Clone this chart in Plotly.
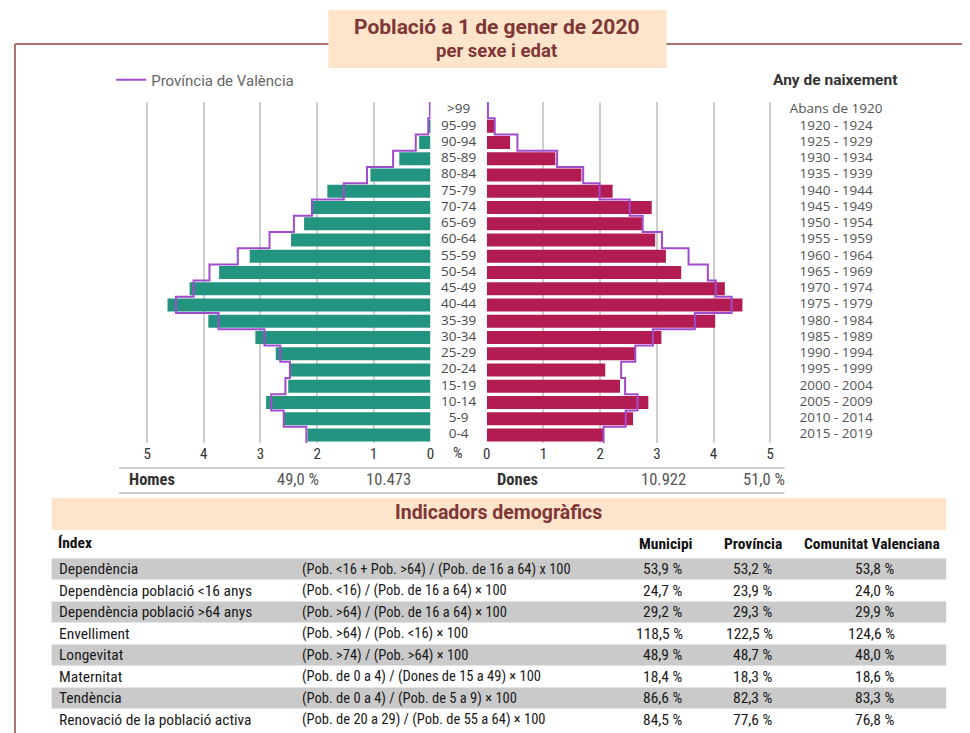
import plotly.graph_objects as go

W, H = 970, 733
OFF = 8  # default page body margin
FW, FH = W - OFF, H - OFF

def px(x):
    return (x - OFF) / FW

def py(y):
    return 1 - (y - OFF) / FH

# ---------------- data ----------------
ages = ['0-4', '5-9', '10-14', '15-19', '20-24', '25-29', '30-34', '35-39', '40-44',
        '45-49', '50-54', '55-59', '60-64', '65-69', '70-74', '75-79', '80-84',
        '85-89', '90-94', '95-99', '>99']
birth = ['2015 - 2019', '2010 - 2014', '2005 - 2009', '2000 - 2004', '1995 - 1999',
         '1990 - 1994', '1985 - 1989', '1980 - 1984', '1975 - 1979', '1970 - 1974',
         '1965 - 1969', '1960 - 1964', '1955 - 1959', '1950 - 1954', '1945 - 1949',
         '1940 - 1944', '1935 - 1939', '1930 - 1934', '1925 - 1929', '1920 - 1924',
         'Abans de 1920']
homes = [2.17, 2.59, 2.90, 2.51, 2.49, 2.73, 3.09, 3.92, 4.64, 4.25, 3.73, 3.19,
         2.46, 2.23, 2.11, 1.82, 1.06, 0.55, 0.20, 0.03, 0.0]
dones = [2.05, 2.58, 2.85, 2.35, 2.09, 2.62, 3.08, 4.03, 4.51, 4.20, 3.43, 3.16,
         2.97, 2.74, 2.91, 2.22, 1.67, 1.21, 0.41, 0.14, 0.0]
prov_homes = [2.19, 2.59, 2.81, 2.56, 2.48, 2.65, 2.93, 3.74, 4.49, 4.18, 3.90, 3.40,
              2.84, 2.41, 2.09, 1.53, 1.12, 0.66, 0.26, 0.04, 0.01]
prov_dones = [2.06, 2.45, 2.66, 2.44, 2.37, 2.62, 2.93, 3.67, 4.32, 4.04, 3.90, 3.56,
              3.09, 2.75, 2.52, 1.99, 1.70, 1.24, 0.54, 0.14, 0.02]
tick_vals = [0, 1, 2, 3, 4, 5]

summary_homes = ['Homes', '49,0 %', '10.473']
summary_dones = ['Dones', '10.922', '51,0 %']

idx_names = ['Dependència', 'Dependència població <16 anys', 'Dependència població >64 anys',
             'Envelliment', 'Longevitat', 'Maternitat', 'Tendència',
             'Renovació de la població activa']
formulas = ['(Pob. <16 + Pob. >64) / (Pob. de 16 a 64) x 100',
            '(Pob. <16) / (Pob. de 16 a 64) × 100',
            '(Pob. >64) / (Pob. de 16 a 64) × 100',
            '(Pob. >64) / (Pob. <16) × 100',
            '(Pob. >74) / (Pob. >64) × 100',
            '(Pob. de 0 a 4) / (Dones de 15 a 49) × 100',
            '(Pob. de 0 a 4) / (Pob. de 5 a 9) × 100',
            '(Pob. de 20 a 29) / (Pob. de 55 a 64) × 100']
municipi = ['53,9 %', '24,7 %', '29,2 %', '118,5 %', '48,9 %', '18,4 %', '86,6 %', '84,5 %']
provincia = ['53,2 %', '23,9 %', '29,3 %', '122,5 %', '48,7 %', '18,3 %', '82,3 %', '77,6 %']
comunitat = ['53,8 %', '24,0 %', '29,9 %', '124,6 %', '48,0 %', '18,6 %', '83,3 %', '76,8 %']
table_headers = ['Índex', 'Municipi', 'Província', 'Comunitat Valenciana']

# ---------------- styles ----------------
TEAL = '#23947f'
CRIMSON = '#b31c52'
PURPLE = '#a04ccc'
BROWN = '#7f3636'
PEACH = '#fde4ca'
GRID = '#cdcdcd'
NARROW = 'Liberation Sans Narrow, Roboto Condensed, DejaVu Sans Condensed, sans-serif'
HUMAN = 'Open Sans, Noto Sans, sans-serif'

unit = 57.15
x0_m, x0_f = 430.0, 486.8
ext = 5.05

ypos = list(range(len(ages)))
step_y = [i - 0.5 for i in ypos] + [ypos[-1] + 0.5]

fig = go.Figure()
fig.add_trace(go.Bar(y=ypos, x=homes, orientation='h', marker=dict(color=TEAL, line=dict(width=0)),
                     xaxis='x', yaxis='y', showlegend=False, name='Homes'))
fig.add_trace(go.Bar(y=ypos, x=dones, orientation='h', marker=dict(color=CRIMSON, line=dict(width=0)),
                     xaxis='x2', yaxis='y', showlegend=False, name='Dones'))
fig.add_trace(go.Scatter(x=prov_homes + [prov_homes[-1]], y=step_y, mode='lines', line_shape='vh',
                         line=dict(color=PURPLE, width=2), xaxis='x', yaxis='y',
                         name='Província de València', showlegend=True))
fig.add_trace(go.Scatter(x=prov_dones + [prov_dones[-1]], y=step_y, mode='lines', line_shape='vh',
                         line=dict(color=PURPLE, width=2), xaxis='x2', yaxis='y',
                         name='Província de València', showlegend=False))
# age labels (between the halves) and birth-year labels (right)
fig.add_trace(go.Scatter(x=[0.5] * len(ages), y=ypos, mode='text',
                         text=[a for a in ages], textposition='middle center',
                         textfont=dict(family=HUMAN, size=13.5, color='#4a4a4a'),
                         xaxis='x3', yaxis='y', showlegend=False, hoverinfo='skip'))
fig.add_trace(go.Scatter(x=[0.5] * len(birth), y=ypos, mode='text',
                         text=birth, textposition='middle center',
                         textfont=dict(family=HUMAN, size=13.5, color='#555555'),
                         xaxis='x4', yaxis='y', showlegend=False, hoverinfo='skip'))

axis_common = dict(tickvals=tick_vals, ticktext=[str(v) for v in tick_vals],
                   tickfont=dict(family=NARROW, size=15, color='#333333'),
                   showgrid=True, gridcolor=GRID, gridwidth=1.5, zeroline=False,
                   showline=False, ticks='', fixedrange=True)
hidden = dict(range=[0, 1], showgrid=False, zeroline=False, showline=False,
              showticklabels=False, ticks='', fixedrange=True, anchor='y')

fig.update_layout(
    width=FW, height=FH, autosize=False,
    margin=dict(l=0, r=0, t=0, b=0),
    paper_bgcolor='white', plot_bgcolor='rgba(0,0,0,0)',
    bargap=0.2,
    xaxis=dict(domain=[px(x0_m - ext * unit), px(x0_m)], range=[ext, 0], anchor='y', **axis_common),
    xaxis2=dict(domain=[px(x0_f), px(x0_f + ext * unit)], range=[0, ext], anchor='y', **axis_common),
    xaxis3=dict(domain=[px(x0_m + 1), px(x0_f - 1)], **hidden),
    xaxis4=dict(domain=[px(785), px(893)], **hidden),
    yaxis=dict(domain=[py(443.1), py(101.9)], range=[-0.5, 20.5], showticklabels=False,
               showgrid=False, zeroline=False, showline=False, ticks='', fixedrange=True, anchor='x'),
    legend=dict(x=px(108), y=py(80), xanchor='left', yanchor='middle', itemwidth=30,
                font=dict(family='Roboto, sans-serif', size=15, color='#666666'),
                bgcolor='rgba(0,0,0,0)'),
)

shapes = []
# frame
shapes.append(dict(type='line', xref='paper', yref='paper', x0=px(11), x1=px(975), y0=py(44), y1=py(44),
                   line=dict(color='#a87474', width=2)))
shapes.append(dict(type='line', xref='paper', yref='paper', x0=px(11), x1=px(11), y0=py(44), y1=py(740),
                   line=dict(color='#a87474', width=2)))
# title box
shapes.append(dict(type='rect', xref='paper', yref='paper', x0=px(327), x1=px(668), y0=py(68), y1=py(10),
                   fillcolor=PEACH, line=dict(width=0)))
# summary lines
for yy in (468, 493):
    shapes.append(dict(type='line', xref='paper', yref='paper', x0=px(116), x1=px(787), y0=py(yy), y1=py(yy),
                       line=dict(color='#bdbdbd', width=1.5)))
# indicators band
shapes.append(dict(type='rect', xref='paper', yref='paper', x0=px(48), x1=px(950), y0=py(530), y1=py(498),
                   fillcolor=PEACH, line=dict(width=0)))
row0, pitch = 569.0, 21.5
for i in range(len(idx_names)):
    if i % 2 == 0:
        cy = row0 + pitch * i
        shapes.append(dict(type='rect', xref='paper', yref='paper', x0=px(48), x1=px(950),
                           y0=py(cy + 10.5), y1=py(cy - 10.5), fillcolor='#cacaca', line=dict(width=0),
                           layer='below'))
fig.update_layout(shapes=shapes)

ann = []
def A(x, y, text, size=13, color='#333333', family=NARROW, xanchor='left', bold=False):
    t = f'<b>{text}</b>' if bold else text
    ann.append(dict(x=x, y=y, xref='paper', yref='paper', text=t, showarrow=False,
                    xanchor=xanchor, yanchor='middle', borderpad=0,
                    font=dict(family=family, size=size, color=color)))

# titles
A(px(497), py(27), 'Població a 1 de gener de 2020', size=21, color=BROWN,
  family='Roboto, sans-serif', xanchor='center', bold=True)
A(px(497), py(51), 'per sexe i edat', size=18.5, color=BROWN,
  family='Roboto, sans-serif', xanchor='center', bold=True)
A(px(774), py(80), 'Any de naixement', size=15.5, color='#333333', family='Roboto, sans-serif', bold=True)

A(px(458), py(453), '%', size=15, color='#333333', xanchor='center')

# summary
A(px(125), py(480), summary_homes[0], size=16.5, bold=True, color='#333333')
A(px(319), py(480), summary_homes[1], size=16.5, color='#555555', xanchor='right')
A(px(411), py(480), summary_homes[2], size=16.5, color='#555555', xanchor='right')
A(px(496), py(480), summary_dones[0], size=16.5, bold=True, color='#333333')
A(px(689), py(480), summary_dones[1], size=16.5, color='#555555', xanchor='right')
A(px(788), py(480), summary_dones[2], size=16.5, color='#555555', xanchor='right')

A(px(499), py(513), 'Indicadors demogràfics', size=19.5, color=BROWN,
  family='Roboto, sans-serif', xanchor='center', bold=True)

# table header
A(px(53), py(543), table_headers[0], size=15.5, bold=True, color='#111111')
A(px(667), py(544), table_headers[1], size=15.5, bold=True, color='#111111', xanchor='center')
A(px(755), py(544), table_headers[2], size=15.5, bold=True, color='#111111', xanchor='center')
A(px(875), py(544), table_headers[3], size=15.5, bold=True, color='#111111', xanchor='center')

def esc(s):
    return s.replace('<', '&lt;').replace('>', '&gt;')

for i in range(len(idx_names)):
    cy = row0 + pitch * i
    A(px(54), py(cy), esc(idx_names[i]), size=15.5, color='#1a1a1a')
    A(px(299), py(cy), esc(formulas[i]), size=14.5, color='#1a1a1a')
    A(px(686), py(cy), municipi[i], size=15.5, color='#1a1a1a', xanchor='right')
    A(px(776), py(cy), provincia[i], size=15.5, color='#1a1a1a', xanchor='right')
    A(px(899), py(cy), comunitat[i], size=15.5, color='#1a1a1a', xanchor='right')

fig.update_layout(annotations=ann)
fig.write_html('out.html')
